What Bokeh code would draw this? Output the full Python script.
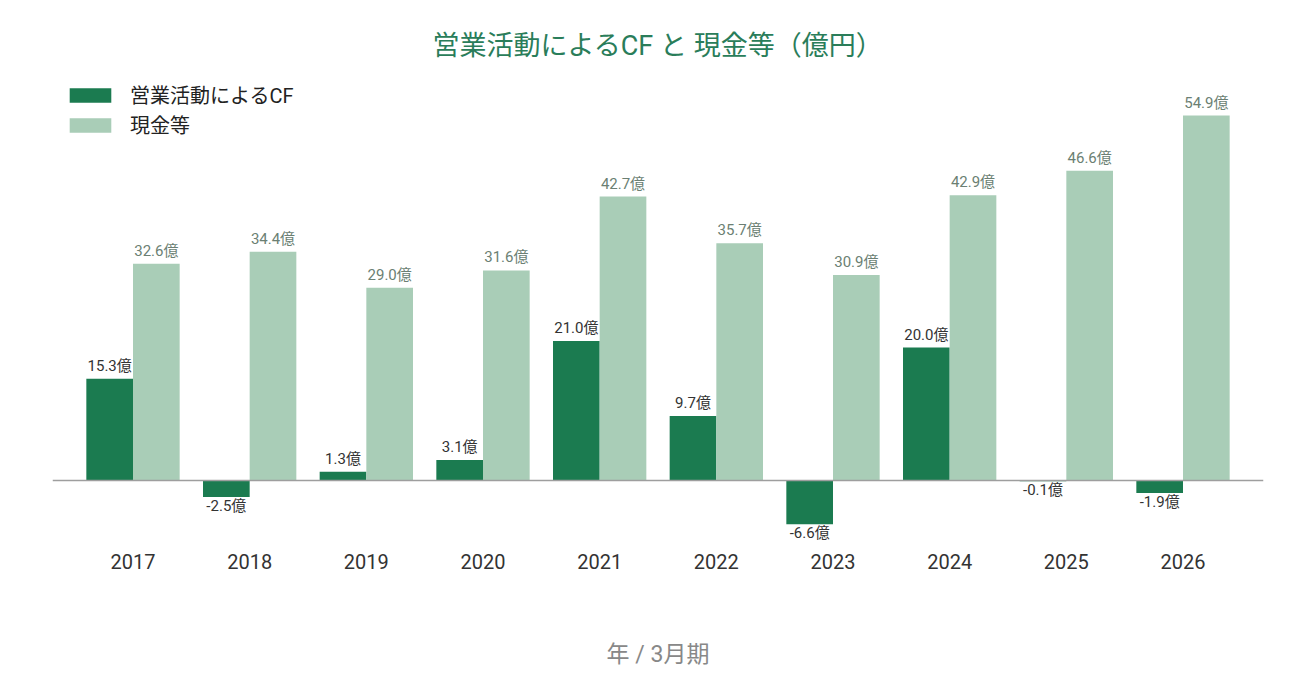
from bokeh.plotting import figure
from bokeh.models import ColumnDataSource, FactorRange, Span, Legend, LegendItem, Range1d
from bokeh.transform import dodge
from bokeh.core.properties import value
from bokeh.embed import file_html
from bokeh.resources import INLINE

years = ["2017", "2018", "2019", "2020", "2021", "2022", "2023", "2024", "2025", "2026"]
operating_cf = [15.3, -2.5, 1.3, 3.1, 21.0, 9.7, -6.6, 20.0, -0.1, -1.9]
cash = [32.6, 34.4, 29.0, 31.6, 42.7, 35.7, 30.9, 42.9, 46.6, 54.9]

DARK = "#1b7b50"
LIGHT = "#a9cdb7"
FONT = "Roboto, 'Noto Sans CJK JP', sans-serif"

def fmt(v):
    return f"{v:.1f}億"

cf_src = ColumnDataSource(dict(
    year=years, val=operating_cf,
    label=[fmt(v) for v in operating_cf],
    base=["bottom" if v >= 0 else "top" for v in operating_cf],
    off=[-4 if v >= 0 else 0 for v in operating_cf],
))
cash_src = ColumnDataSource(dict(
    year=years, val=cash,
    label=[fmt(v) for v in cash],
    base=["bottom"] * len(cash),
    off=[-4] * len(cash),
))

p = figure(
    width=1290, height=675,
    x_range=FactorRange(factors=years, range_padding=0.19, range_padding_units="absolute"),
    y_range=Range1d(-10.08, 61.97),
    output_backend="svg", toolbar_location=None,
    min_border_left=52, min_border_right=27, min_border_top=68, min_border_bottom=128,
)

p.title.text = "営業活動によるCF と 現金等（億円）"
p.title.align = "center"
p.title.text_font = FONT
p.title.text_font_size = "27px"
p.title.text_font_style = "normal"
p.title.text_color = "#2a7d5a"
p.title.standoff = 14

cf_bars = p.vbar(x=dodge("year", -0.2, range=p.x_range), top="val", bottom=0, width=0.4,
                 source=cf_src, fill_color=DARK, line_color=None)
cash_bars = p.vbar(x=dodge("year", 0.2, range=p.x_range), top="val", bottom=0, width=0.4,
                   source=cash_src, fill_color=LIGHT, line_color=None)

p.text(x=dodge("year", -0.2, range=p.x_range), y="val", text="label", source=cf_src,
       text_align="center", text_baseline="base", y_offset="off",
       text_font=value(FONT), text_font_size="15px", text_color="#333333")
p.text(x=dodge("year", 0.2, range=p.x_range), y="val", text="label", source=cash_src,
       text_align="center", text_baseline="base", y_offset="off",
       text_font=value(FONT), text_font_size="15px", text_color="#6b7f73")

p.add_layout(Span(location=0, dimension="width", line_color="#9e9e9e", line_width=1.5))

legend = Legend(items=[
    LegendItem(label="営業活動によるCF", renderers=[cf_bars]),
    LegendItem(label="現金等", renderers=[cash_bars]),
], location="top_left")
legend.margin = 12
legend.padding = 8
legend.border_line_color = None
legend.background_fill_alpha = 0
legend.glyph_width = 52
legend.glyph_height = 18
legend.label_standoff = 14
legend.label_text_font = FONT
legend.label_text_font_size = "20px"
legend.label_text_color = "#222222"
legend.spacing = 1
p.add_layout(legend)

p.yaxis.visible = False
p.xgrid.grid_line_color = None
p.ygrid.grid_line_color = None
p.outline_line_color = None

xa = p.xaxis[0]
xa.axis_line_color = None
xa.major_tick_line_color = None
xa.minor_tick_line_color = None
xa.major_label_text_font = FONT
xa.major_label_text_font_size = "20px"
xa.major_label_text_color = "#333333"
xa.major_label_standoff = 0
xa.axis_label = "年 / 3月期"
xa.axis_label_text_font = FONT
xa.axis_label_text_font_size = "23px"
xa.axis_label_text_font_style = "normal"
xa.axis_label_text_color = "#888888"
xa.axis_label_standoff = 69

open("out.html", "w").write(file_html(p, INLINE))
